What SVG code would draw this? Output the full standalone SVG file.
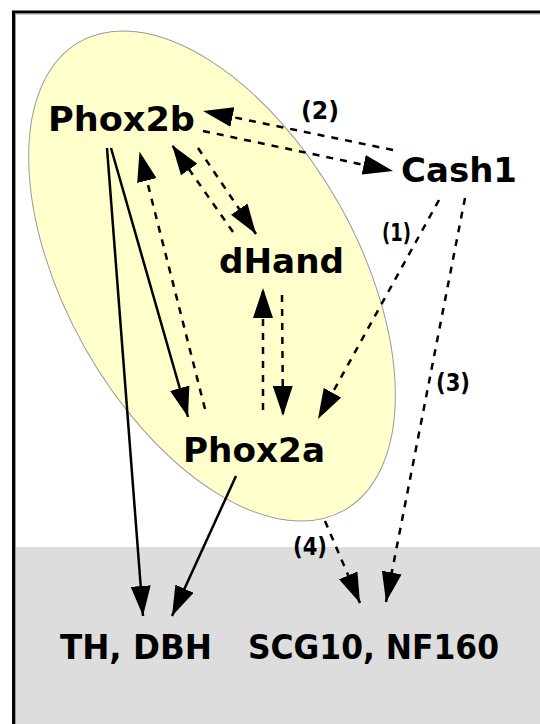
<svg xmlns="http://www.w3.org/2000/svg" width="540" height="724" viewBox="0 0 540 724">
  <style>
    .node { font-family: "DejaVu Sans", "Liberation Sans", sans-serif; font-weight: bold; font-size: 34px; fill: #000; }
    .tag { font-family: "DejaVu Sans", "Liberation Sans", sans-serif; font-weight: bold; font-size: 24px; fill: #000; }
    .solid { stroke: #000; stroke-width: 2.5; fill: none; marker-end: url(#head); }
    .dash { stroke: #000; stroke-width: 2.5; fill: none; stroke-dasharray: 7 7; marker-end: url(#head); }
  </style>
  <defs>
    <marker id="head" markerUnits="userSpaceOnUse" markerWidth="30" markerHeight="20" refX="30" refY="10" orient="auto" viewBox="0 0 30 20">
      <path d="M0,0 L30,10 L0,20 z" fill="#000"/>
    </marker>
  </defs>

  <!-- page and frame -->
  <rect x="0" y="0" width="540" height="724" fill="#fff"/>
  <rect x="14" y="547" width="530" height="180" fill="#dddddd"/>
  <path d="M13.5,724 L13.5,12 L540,12" fill="none" stroke="#000" stroke-width="3"/>
  <path d="M15.5,724 L15.5,14 L540,14" fill="none" stroke="#999" stroke-width="1"/>

  <!-- domain of the cross-regulating factors -->
  <ellipse id="domain" cx="212" cy="276" rx="269" ry="146" transform="rotate(60.6 212 276)" fill="#ffffcc" stroke="#999" stroke-width="1"/>

  <g id="connectors">
    <line class="dash" x1="393" y1="150" x2="203" y2="111"/>
    <line class="dash" x1="203" y1="131" x2="393" y2="171"/>
    <line class="dash" x1="198" y1="148" x2="256" y2="234"/>
    <line class="dash" x1="233" y1="232" x2="172" y2="145"/>
    <line class="dash" x1="205" y1="409" x2="139.5" y2="151.5"/>
    <line class="solid" x1="111" y1="148" x2="188" y2="417"/>
    <line class="solid" x1="107" y1="148" x2="143" y2="616"/>
    <line class="dash" x1="263" y1="410" x2="263" y2="288"/>
    <line class="dash" x1="282" y1="295" x2="283" y2="416"/>
    <line class="dash" x1="439" y1="200" x2="318" y2="419"/>
    <line class="dash" x1="465" y1="198" x2="386" y2="602"/>
    <line class="solid" x1="236" y1="476" x2="172" y2="616"/>
    <line class="dash" x1="325" y1="521" x2="360" y2="603"/>
  </g>

  <g id="phox2b"><text class="node" x="48" y="131" textLength="147" lengthAdjust="spacingAndGlyphs">Phox2b</text></g>
  <g id="cash1"><text class="node" x="401" y="182" textLength="116" lengthAdjust="spacingAndGlyphs">Cash1</text></g>
  <g id="dhand"><text class="node" x="219" y="273" textLength="125" lengthAdjust="spacingAndGlyphs">dHand</text></g>
  <g id="phox2a"><text class="node" x="183" y="462" textLength="142" lengthAdjust="spacingAndGlyphs">Phox2a</text></g>
  <g id="th-dbh"><text class="node" x="60" y="659" textLength="152" lengthAdjust="spacingAndGlyphs">TH, DBH</text></g>
  <g id="scg10-nf160"><text class="node" x="248" y="659" textLength="251" lengthAdjust="spacingAndGlyphs">SCG10, NF160</text></g>

  <g id="labels">
    <text class="tag" x="301" y="119" textLength="38" lengthAdjust="spacingAndGlyphs">(2)</text>
    <text class="tag" x="382" y="241" textLength="29" lengthAdjust="spacingAndGlyphs">(1)</text>
    <text class="tag" x="436" y="391" textLength="34" lengthAdjust="spacingAndGlyphs">(3)</text>
    <text class="tag" x="293" y="555" textLength="34" lengthAdjust="spacingAndGlyphs">(4)</text>
  </g>
</svg>
